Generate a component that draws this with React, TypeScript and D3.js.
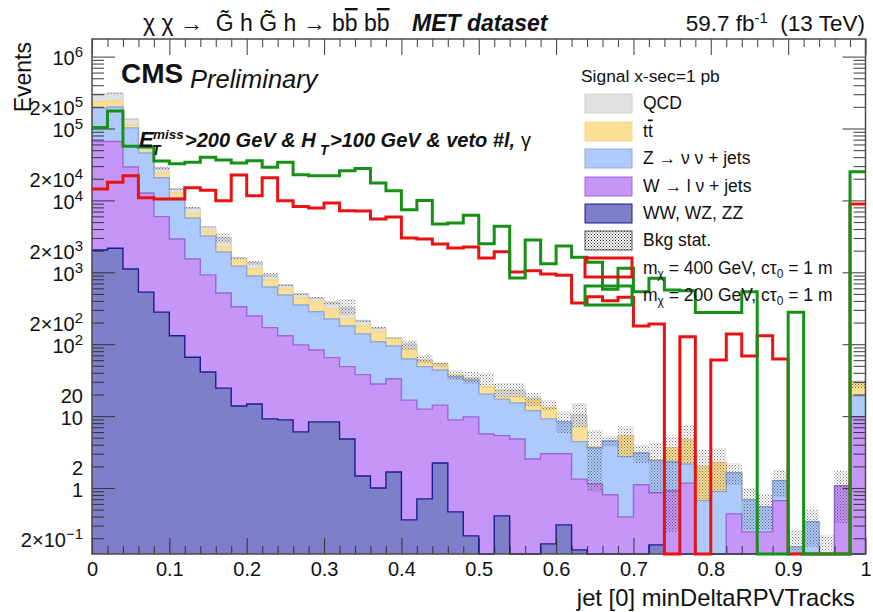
import { useEffect, useRef } from 'react'
import * as d3 from 'd3'

const WIDTH = 873
const HEIGHT = 612
const margin = { top: 39, right: 7.5, bottom: 58, left: 92 }
const FONT = '"Liberation Sans", Arial, sans-serif'

// 50 bins of 0.02, stack tops are cumulative (ROOT THStack style)
const binEdges = d3.range(0, 50).map(i => i / 50)

const dibosonTop = [2040, 2160, 1110, 530, 279, 131, 66, 41, 24.5, 13.8, 14.7, 9.15, 8.86, 6.03, 8.31, 8.31, 4.81, 1.47, 1, 1.67, 0.36, 0.707, 2.23, 0.466, 0.216, 0, 0.41, 0, 0, 0.167, 0.307, 0.138, 0, 0, 0, 0, 0.162, 0, 0, 0, 0, 0, 0, 0, 0, 0, 0, 0, 0, 0]
const wjetsTop = [66000, 66000, 29200, 12700, 5950, 2910, 1530, 920, 516, 332, 247, 170, 131, 98, 83.1, 65, 48.8, 37.7, 27.9, 33, 16.7, 12.5, 14.2, 8.86, 9.76, 5.65, 5.35, 4.81, 2.53, 3, 3, 1.33, 1.14, 0.805, 0.397, 1.11, 0.858, 0.915, 1.17, 0, 0, 0.437, 0.245, 0.245, 0.664, 0, 0, 0, 1.07, 9.76]
const zjetsTop = [193000, 199000, 102000, 45700, 20700, 10800, 5700, 3200, 1920, 1220, 888, 625, 484, 351, 283, 224, 179, 139, 108, 94.5, 62.2, 48.8, 43.7, 35.3, 31.7, 20.2, 17.2, 15.2, 11.9, 9.15, 8.38, 4.41, 3.6, 4.51, 2.73, 3.07, 2.4, 2.32, 2.16, 0.664, 0.89, 1.63, 0.685, 0.55, 1.26, 0.152, 0.34, 0, 1.07, 19]
const ttbarTop = [234000, 241000, 112000, 48800, 24000, 12700, 6500, 3760, 2250, 1480, 1110, 780, 587, 439, 390, 309, 224, 179, 149, 118, 83.1, 57, 51.3, 37.2, 32.7, 25.7, 18.6, 18.6, 16.7, 13.1, 8.38, 6.95, 3.72, 4.51, 5.3, 3.07, 2.45, 3.6, 4.66, 1.99, 2.23, 1.63, 0.685, 0.55, 1.26, 0.152, 0.34, 0, 1.07, 28.8]
const qcdTop = [302000, 312000, 136000, 53500, 28200, 14400, 7850, 4270, 3030, 1580, 1360, 920, 665, 500, 439, 378, 319, 212, 168, 122, 100, 60.3, 54, 37.2, 33.8, 25.7, 23, 23, 17.8, 13.2, 8.38, 10.3, 3.72, 4.51, 5.3, 3.07, 2.45, 3.6, 4.66, 1.99, 2.23, 1.63, 0.685, 0.55, 1.26, 0.152, 0.34, 0, 1.07, 29.7]
const statHigh = [302000, 312000, 136000, 53500, 30000, 14900, 8100, 4400, 3530, 1630, 1440, 977, 689, 516, 452, 403, 425, 221, 173, 126, 114, 70.7, 54.7, 43.7, 41, 39.7, 28.8, 28.8, 20.9, 16.7, 11.5, 15.2, 6.43, 5.3, 7.15, 3.97, 4.23, 5.18, 7.55, 3.38, 3.6, 2.23, 1, 0.831, 1.78, 0.261, 0.497, 0.223, 1.72, 31.7]
const statLow = [295000, 305000, 132000, 52000, 26500, 13900, 7600, 4150, 2550, 1530, 1280, 865, 640, 485, 425, 355, 255, 203, 163, 118, 83, 55, 49, 31.7, 27.9, 25.7, 18.6, 18.6, 13.8, 12.1, 5.84, 7.07, 0.89, 3.75, 2.73, 2.23, 0.858, 0.247, 2.23, 0.685, 0.89, 1.1, 0.261, 0.261, 0.755, 0, 0.152, 0, 0.327, 24.5]
const signal400 = [14400, 17900, 22100, 10900, 10500, 10500, 15000, 13800, 9900, 22600, 11600, 20700, 9900, 8200, 7850, 9200, 7200, 7150, 5510, 5880, 3000, 2910, 2480, 2180, 2250, 1580, 1930, 1010, 1050, 945, 910, 374, 458, 403, 449, 179, 191, 0, 127, 0, 60.4, 139, 68.5, 131, 62.2, 0, 0, 0, 0, 8900]
const signal200 = [103000, 175000, 56600, 55300, 35300, 32400, 33900, 39800, 36500, 33200, 35700, 28900, 33900, 22800, 22100, 22100, 25900, 27800, 17400, 13600, 7430, 10000, 4700, 4850, 6220, 2500, 4370, 832, 2810, 1320, 2320, 1620, 1380, 580, 1140, 538, 828, 568, 555, 275, 275, 275, 538, 0, 0, 278, 0, 0, 0, 25100]

const xMajor = [0, 0.1, 0.2, 0.3, 0.4, 0.5, 0.6, 0.7, 0.8, 0.9, 1]
const yLabelled = [1e6, 2e5, 1e5, 2e4, 1e4, 2e3, 1e3, 2e2, 1e2, 20, 10, 2, 1, 0.2]
const yDecades = [1e6, 1e5, 1e4, 1e3, 1e2, 10, 1]

const stackSeries = [
  { name: 'QCD', top: qcdTop, fill: '#e1e1e1', line: '#d2d2d2' },
  { name: 'ttbar', top: ttbarTop, fill: '#fbdf95', line: '#f5d78a' },
  { name: 'Z', top: zjetsTop, fill: '#aec9fb', line: '#8ea8dc' },
  { name: 'W', top: wjetsTop, fill: '#c596f8', line: '#9a68d8' },
  { name: 'VV', top: dibosonTop, fill: '#7f7fc9', line: '#1c1c96' },
]

const RED = '#e81212'
const GREEN = '#169016'

export default function App() {
  const axesRef = useRef<SVGGElement>(null)

  const innerRight = WIDTH - margin.right
  const innerBottom = HEIGHT - margin.bottom
  const x = d3.scaleLinear().domain([0, 1]).range([margin.left, innerRight])
  const y = d3.scaleLog().domain([0.1208, 1.757e6]).range([innerBottom, margin.top])
  const yPos = (v: number) => (v > 0 ? Math.min(y(v), innerBottom) : innerBottom)

  const stepPoints = (vals: number[]) => [...binEdges, 1].map((e, i) => ({ e, v: vals[Math.min(i, vals.length - 1)] }))
  const area = d3.area<{ e: number; v: number }>().x(d => x(d.e)).y0(innerBottom).y1(d => yPos(d.v)).curve(d3.curveStepAfter)
  const line = d3.line<{ e: number; v: number }>().x(d => x(d.e)).y(d => yPos(d.v)).curve(d3.curveStepAfter)

  const statBand = d3.area<{ e: number; hi: number; lo: number }>()
    .x(d => x(d.e)).y0(d => yPos(d.lo)).y1(d => yPos(d.hi)).curve(d3.curveStepAfter)
  const statPts = [...binEdges, 1].map((e, i) => {
    const k = Math.min(i, 49)
    return { e, hi: statHigh[k], lo: statLow[k] }
  })

  useEffect(() => {
    const g = d3.select(axesRef.current)
    g.selectAll('*').remove()

    const xMinor = d3.range(0, 51).map(i => i / 50).filter(v => !xMajor.some(m => Math.abs(m - v) < 1e-6))
    const yMinor: number[] = []
    for (let e = -1; e <= 6; e++) {
      for (let m = 2; m <= 9; m++) {
        const v = m * Math.pow(10, e)
        if (v > y.domain()[0] && v < y.domain()[1]) yMinor.push(v)
      }
    }

    const addAxis = (axis: any, tx: number, ty: number, labelled = false) => {
      const a = g.append('g').attr('transform', `translate(${tx},${ty})`).call(axis)
      a.select('.domain').remove()
      a.selectAll('line').attr('stroke', '#2a2a2a').attr('stroke-width', 1.1).attr('stroke-opacity', 0.85)
      a.attr('font-family', FONT).attr('font-size', 20).attr('fill', '#111')
      if (labelled) a.selectAll('text').attr('fill', '#111')
      else a.selectAll('text').remove()
      return a
    }

    // bottom / top ticks point inwards, ROOT style
    addAxis(d3.axisBottom(x).tickValues(xMinor).tickSize(-8), 0, innerBottom)
    addAxis(d3.axisTop(x).tickValues(xMinor).tickSize(-8), 0, margin.top)
    addAxis(d3.axisTop(x).tickValues(xMajor).tickSize(-16), 0, margin.top)
    const xb = addAxis(d3.axisBottom(x).tickValues(xMajor).tickSize(-16).tickFormat(d => String(d)), 0, innerBottom, true)
    xb.selectAll('text').attr('y', 8).attr('dy', '0.71em')

    addAxis(d3.axisLeft(y).tickValues(yMinor).tickSize(-12), margin.left, 0)
    addAxis(d3.axisRight(y).tickValues(yMinor).tickSize(-12), innerRight, 0)
    addAxis(d3.axisRight(y).tickValues(yDecades).tickSize(-23), innerRight, 0)
    addAxis(d3.axisLeft(y).tickValues(yDecades).tickSize(-23), margin.left, 0)

    // labels with superscripts, 2x10^n where needed
    const yl = addAxis(d3.axisLeft(y).tickValues(yLabelled).tickSize(0).tickPadding(9).tickFormat(() => ''), margin.left, 0, true)
    yl.selectAll('line').remove()
    yl.selectAll<SVGTextElement, number>('text').each(function (d) {
      const t = d3.select(this).attr('dy', 8).text(null)
      if (d >= 1 && d <= 20) {
        t.text(String(d))
        return
      }
      const exp = Math.floor(Math.log10(d) + 1e-9)
      const mant = Math.round(d / Math.pow(10, exp))
      t.append('tspan').text(mant === 1 ? '10' : `${mant}\u00d710`)
      t.append('tspan').attr('dy', -8).attr('font-size', 15).text(String(exp).replace('-', '\u2212'))
    })
  }, [])

  const swatchX = 585
  const swatchW = 47
  const swatchH = 19

  return (
    <svg
      width={WIDTH}
      height={HEIGHT}
      style={{ position: 'absolute', left: 0, top: 0, background: '#fff' }}
      fontFamily={FONT}
    >
      <defs>
        <pattern id="dots" width={3} height={3} patternUnits="userSpaceOnUse">
          <rect x={0} y={0} width={1} height={1} fill="#222" />
          <rect x={1.5} y={1.5} width={1} height={1} fill="#222" />
        </pattern>
      </defs>

      {stackSeries.map(s => (
        <g key={s.name}>
          <path d={area(stepPoints(s.top)) ?? ''} fill={s.fill} />
          <path d={line(stepPoints(s.top)) ?? ''} fill="none" stroke={s.line} strokeWidth={1.4} />
        </g>
      ))}
      <path d={statBand(statPts) ?? ''} fill="url(#dots)" opacity={0.6} />

      <g ref={axesRef} />
      <rect x={margin.left} y={margin.top} width={innerRight - margin.left} height={innerBottom - margin.top} fill="none" stroke="#4a4a4a" strokeWidth={1.5} />

      <path d={line(stepPoints(signal400)) ?? ''} fill="none" stroke={RED} strokeWidth={3} />
      <path d={line(stepPoints(signal200)) ?? ''} fill="none" stroke={GREEN} strokeWidth={3} />

      {/* title row */}
      <text x={143} y={31} fontSize={23} fill="#111" xmlSpace="preserve">
        {'\u03c7 \u03c7 \u2192  G\u0303 h G\u0303 h \u2192 b'}
        <tspan textDecoration="overline">b</tspan>
        {' b'}
        <tspan textDecoration="overline">b</tspan>
      </text>
      <text x={412} y={31} fontSize={23} fontWeight="bold" fontStyle="italic" fill="#111">MET dataset</text>
      <text x={865} y={31} fontSize={22.5} textAnchor="end" fill="#111" xmlSpace="preserve">
        59.7 fb<tspan dy={-8} fontSize={15}>{'-1'}</tspan><tspan dy={8}>{'  (13 TeV)'}</tspan>
      </text>

      <text x={121} y={83} fontSize={28} fontWeight="bold" fill="#111">CMS</text>
      <text x={190} y={88} fontSize={25.5} fontStyle="italic" fill="#111">Preliminary</text>

      {/* selection label */}
      <g fontSize={20} fontWeight="bold" fontStyle="italic" fill="#111">
        <text x={139} y={147} fontSize={22}>E</text>
        <text x={153} y={139} fontSize={13.5}>miss</text>
        <text x={152} y={155} fontSize={14}>T</text>
        <text x={185} y={147}>{'>200 GeV & H'}</text>
        <text x={320} y={155} fontSize={14}>T</text>
        <text x={330} y={147}>{'>100 GeV & veto #l,'}</text>
      </g>
      <text x={521} y={147} fontSize={20} fill="#111">{'\u03b3'}</text>

      {/* legend */}
      <text x={581} y={82} fontSize={17.4} fill="#111">Signal x-sec=1 pb</text>
      <g fontSize={17.5} fill="#111">
        <rect x={swatchX} y={94} width={swatchW} height={swatchH} fill="#e1e1e1" stroke="#d2d2d2" />
        <text x={643} y={109}>QCD</text>
        <rect x={swatchX} y={122} width={swatchW} height={swatchH} fill="#fbdf95" stroke="#f5d78a" />
        <text x={643} y={136.5}>t<tspan textDecoration="overline">t</tspan></text>
        <rect x={swatchX} y={149} width={swatchW} height={swatchH} fill="#aec9fb" stroke="#8ea8dc" />
        <text x={643} y={164}>{'Z \u2192 \u03bd \u03bd + jets'}</text>
        <rect x={swatchX} y={177} width={swatchW} height={swatchH} fill="#c596f8" stroke="#9a68d8" />
        <text x={643} y={191.5}>{'W \u2192 l \u03bd + jets'}</text>
        <rect x={swatchX} y={204} width={swatchW} height={swatchH} fill="#7f7fc9" stroke="#1c1c96" />
        <text x={643} y={219}>WW, WZ, ZZ</text>
        <rect x={swatchX} y={231} width={swatchW} height={swatchH} fill="url(#dots)" stroke="#555" />
        <text x={643} y={246}>Bkg stat.</text>
        <rect x={swatchX} y={258} width={swatchW} height={swatchH} fill="none" stroke={RED} strokeWidth={3} />
        <text x={643} y={274}>
          m<tspan dy={4} fontSize={12}>{'\u03c7'}</tspan><tspan dy={-4}>{' = 400 GeV, c\u03c4'}</tspan><tspan dy={4} fontSize={12}>0</tspan><tspan dy={-4}>{' = 1 m'}</tspan>
        </text>
        <rect x={swatchX} y={286} width={swatchW} height={swatchH} fill="none" stroke={GREEN} strokeWidth={3} />
        <text x={643} y={301}>
          m<tspan dy={4} fontSize={12}>{'\u03c7'}</tspan><tspan dy={-4}>{' = 200 GeV, c\u03c4'}</tspan><tspan dy={4} fontSize={12}>0</tspan><tspan dy={-4}>{' = 1 m'}</tspan>
        </text>
      </g>

      <text x={855} y={606} fontSize={23.8} textAnchor="end" fill="#111">jet [0] minDeltaRPVTracks</text>
      <text transform="translate(31,42) rotate(-90)" fontSize={23} textAnchor="end" fill="#111">Events</text>
    </svg>
  )
}
